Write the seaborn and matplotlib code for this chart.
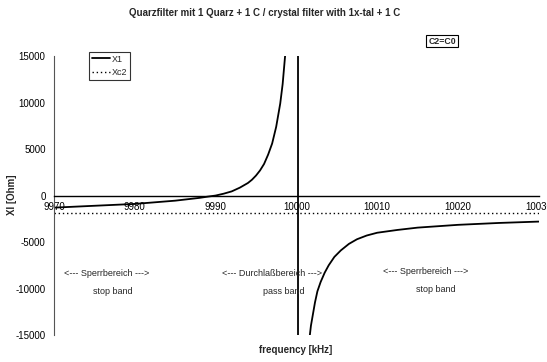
import matplotlib
matplotlib.use("Agg")
import matplotlib.pyplot as plt
import seaborn as sns
import pandas as pd

# ---- data ----
freq_x1 = [9970, 9975, 9980, 9985, 9988, 9989, 9990, 9991, 9992, 9993, 9994,
           9994.5, 9995, 9995.5, 9996, 9996.5, 9997, 9997.5, 9998, 9998.3,
           9998.6, 9998.8, 10000.2, 10000.2, 10001.6, 10001.8, 10002,
           10002.3, 10002.6, 10003, 10003.5, 10004, 10004.7, 10005.5,
           10006.5, 10007.5, 10008.7, 10010, 10012.5, 10015, 10017.5, 10020,
           10025, 10030]
x1 = [-1300, -1100, -900, -550, -250, -120, 0, 200, 450, 850, 1350,
      1700, 2150, 2700, 3400, 4400, 5600, 7400, 9900, 12000,
      15000, 17000, 1000000, -1000000, -15500, -14000, -13000,
      -11500, -10300, -9300, -8300, -7500, -6600, -5900,
      -5200, -4700, -4300, -4000, -3700, -3450, -3300, -3150,
      -2950, -2800]
freq_xc2 = [9970, 9980, 9990, 10000, 10010, 10020, 10030]
xc2 = [-1900, -1900, -1900, -1900, -1900, -1900, -1900]
xticks = [9970, 9980, 9990, 10000, 10010, 10020, 10030]
yticks = [-15000, -10000, -5000, 0, 5000, 10000, 15000]

sns.set_style("white")
plt.rcParams['font.family'] = ['Liberation Sans Narrow', 'Liberation Sans', 'DejaVu Sans']

fig = plt.figure(figsize=(5.47, 3.62), dpi=100)
ax = fig.add_axes([0.0987, 0.0746, 0.8863, 0.7704])

df1 = pd.DataFrame({"f": freq_x1, "X1": x1})
df2 = pd.DataFrame({"f": freq_xc2, "Xc2": xc2})
sns.lineplot(data=df1, x="f", y="X1", estimator=None, sort=False, color="black",
             lw=1.3, ax=ax, label="X1")
sns.lineplot(data=df2, x="f", y="Xc2", estimator=None, sort=False, color="black",
             lw=1.0, ls=(0, (1, 2)), ax=ax, label="Xc2")

ax.set_xlim(9970, 10030)
ax.set_ylim(-15000, 15000)
ax.set_xticks(xticks)
ax.set_yticks(yticks)
ax.set_xticklabels([str(t) for t in xticks])
ax.set_yticklabels([str(t) for t in yticks])

for s in ["top", "right"]:
    ax.spines[s].set_visible(False)
ax.spines["bottom"].set_position(("data", 0))
ax.spines["left"].set_color("#555555")
ax.spines["bottom"].set_color("black")
ax.spines["left"].set_linewidth(0.8)
ax.spines["bottom"].set_linewidth(1.0)
ax.tick_params(axis="both", direction="inout", length=5, width=0.8,
               labelsize=7, colors="black")
ax.tick_params(axis="x", pad=2)

ax.set_xlabel("")
ax.set_ylabel("")
fig.text(12/547, 1-195/362, "Xl [Ohm]", rotation=90, ha="center", va="center",
         fontsize=7, fontweight="bold")
fig.text(0.54, 0.018, "frequency [kHz]", ha="center", va="bottom",
         fontsize=7, fontweight="bold")
fig.text(0.483, 0.965, "Quarzfilter mit 1 Quarz + 1 C / crystal filter with 1x-tal + 1 C",
         ha="center", va="center", fontsize=7, fontweight="bold")
fig.text(442/547, 1-41/362, "C2=C0", ha="center", va="center", fontsize=6.3,
         fontweight="bold",
         bbox=dict(boxstyle="square,pad=0.2", fc="white", ec="black", lw=0.8))

leg = ax.legend(loc="upper left", bbox_to_anchor=(0.072, 1.015), fontsize=6.5,
                frameon=True, fancybox=False, edgecolor="black",
                handlelength=2.0, borderpad=0.3, labelspacing=0.5,
                handletextpad=0.2, borderaxespad=0)
leg.get_frame().set_linewidth(0.8)

ann = dict(ha="center", va="center", fontsize=6.5, transform=fig.transFigure)
fig.text(107/547, 1-273/362, "<--- Sperrbereich --->", **ann)
fig.text(113/547, 1-291/362, "stop band", **ann)
fig.text(272/547, 1-273/362, "<--- Durchlaßbereich --->", **ann)
fig.text(284/547, 1-291/362, "pass band", **ann)
fig.text(426/547, 1-271/362, "<--- Sperrbereich --->", **ann)
fig.text(436/547, 1-289/362, "stop band", **ann)

fig.savefig("out.png", dpi=100)
